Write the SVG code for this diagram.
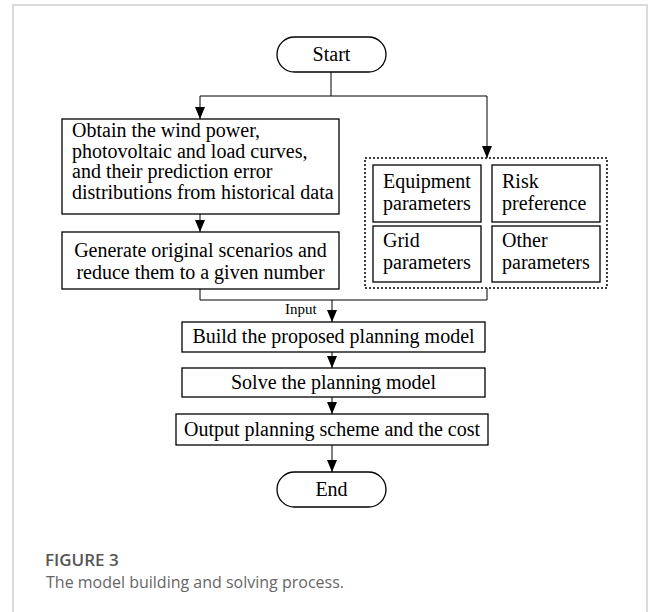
<svg xmlns="http://www.w3.org/2000/svg" width="658" height="612" viewBox="0 0 658 612">
<defs>
<marker id="arr" markerWidth="12" markerHeight="10" refX="12" refY="5" orient="auto" markerUnits="userSpaceOnUse" viewBox="0 0 12 10">
<path d="M0,0 L12,5 L0,10 Z" fill="#000"/>
</marker>
<style>
.box{fill:#fff;stroke:#000;stroke-width:1.3}
.t{font-family:"Liberation Serif","Times New Roman",serif;font-size:20px;fill:#000}
.c{text-anchor:middle}
.ln{fill:none;stroke:#000;stroke-width:1}
.dot{fill:none;stroke:#000;stroke-width:1.5;stroke-dasharray:2 2}
</style>
</defs>
<rect width="658" height="612" fill="#fff"/>
<path d="M13,612 V5 H647 V612" fill="none" stroke="#d0d0d0" stroke-width="1.5"/>

<g id="connectors">
<path class="ln" d="M331,72 V96"/>
<path class="ln" d="M200,96 H487"/>
<path class="ln" d="M200,96 V119" marker-end="url(#arr)"/>
<path class="ln" d="M487,96 V158" marker-end="url(#arr)"/>
<path class="ln" d="M200,214 V232" marker-end="url(#arr)"/>
<path class="ln" d="M200,289 V300 H487 V288"/>
<path class="ln" d="M332,300 V322" marker-end="url(#arr)"/>
<path class="ln" d="M332,352 V368" marker-end="url(#arr)"/>
<path class="ln" d="M332,397 V414" marker-end="url(#arr)"/>
<path class="ln" d="M332,445 V472" marker-end="url(#arr)"/>
<text class="t" x="285" y="314" style="font-size:15px">Input</text>
</g>

<g id="start">
<rect class="box" x="277" y="37" width="109" height="35" rx="17.5"/>
<text class="t c" x="331.5" y="61">Start</text>
</g>

<g id="obtain">
<rect class="box" x="62" y="119" width="277" height="95"/>
<text class="t" x="72" y="137">Obtain the wind power,</text>
<text class="t" x="72" y="157.7">photovoltaic and load curves,</text>
<text class="t" x="72" y="178.3">and their prediction error</text>
<text class="t" x="72" y="199">distributions from historical data</text>
</g>

<g id="generate">
<rect class="box" x="62" y="232" width="277" height="57"/>
<text class="t c" x="200.5" y="257">Generate original scenarios and</text>
<text class="t c" x="200.5" y="279">reduce them to a given number</text>
</g>

<g id="params">
<rect class="dot" x="365" y="158" width="242" height="130"/>
</g>
<g id="equipment">
<rect class="box" x="373" y="165" width="108" height="57"/>
<text class="t" x="383" y="188">Equipment</text>
<text class="t" x="383" y="210">parameters</text>
</g>
<g id="risk">
<rect class="box" x="492" y="165" width="108" height="57"/>
<text class="t" x="502" y="188">Risk</text>
<text class="t" x="502" y="210">preference</text>
</g>
<g id="grid">
<rect class="box" x="373" y="226" width="108" height="56"/>
<text class="t" x="383" y="247">Grid</text>
<text class="t" x="383" y="269">parameters</text>
</g>
<g id="other">
<rect class="box" x="492" y="226" width="108" height="56"/>
<text class="t" x="502" y="247">Other</text>
<text class="t" x="502" y="269">parameters</text>
</g>

<g id="build">
<rect class="box" x="182" y="322" width="303" height="30"/>
<text class="t c" x="333.5" y="343">Build the proposed planning model</text>
</g>
<g id="solve">
<rect class="box" x="182" y="368" width="303" height="29"/>
<text class="t c" x="333.5" y="389">Solve the planning model</text>
</g>
<g id="output">
<rect class="box" x="176" y="414" width="312" height="31"/>
<text class="t c" x="332" y="436">Output planning scheme and the cost</text>
</g>
<g id="end">
<rect class="box" x="277" y="472" width="109" height="35" rx="17.5"/>
<text class="t c" x="331.5" y="496">End</text>
</g>

<g id="caption">
<text x="45" y="566" style="font-family:'Open Sans','Noto Sans',sans-serif;font-size:17px;font-weight:600;fill:#555">FIGURE 3</text>
<text x="46" y="588" style="font-family:'Open Sans','Noto Sans',sans-serif;font-size:16px;fill:#666">The model building and solving process.</text>
</g>
</svg>
